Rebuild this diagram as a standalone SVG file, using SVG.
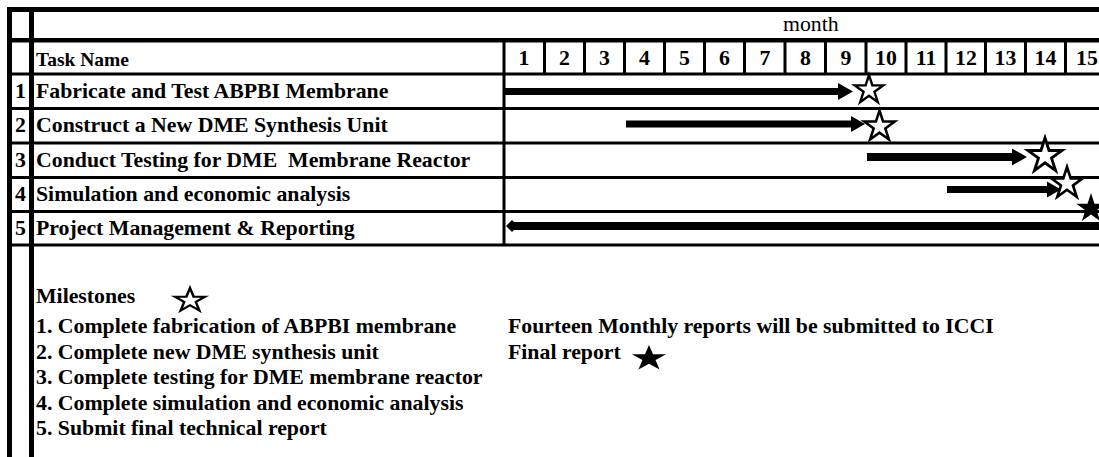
<svg xmlns="http://www.w3.org/2000/svg" width="1099" height="457" viewBox="0 0 1099 457">
<style>
.t{font-family:"Liberation Serif","Times New Roman",serif;font-weight:bold;font-size:21.8px;fill:#000}
.n{text-anchor:middle}
.r{font-weight:normal}
.g{fill:#000}
.so{fill:#fff;stroke:#000;stroke-width:1.6;vector-effect:non-scaling-stroke}
.sf{fill:#000}
</style>
<defs>
<path id="star" d="M0,-10 L2.245,-3.09 L9.511,-3.09 L3.633,1.18 L5.878,8.09 L0,3.82 L-5.878,8.09 L-3.633,1.18 L-9.511,-3.09 L-2.245,-3.09 Z"/>
</defs>
<rect width="1099" height="457" fill="#fff"/>
<g id="grid" class="g">
<rect x="7" y="7" width="1092" height="5"/>
<rect x="7" y="38" width="1092" height="4.5"/>
<rect x="7" y="72.5" width="1092" height="3"/>
<rect x="7" y="107" width="1092" height="3"/>
<rect x="7" y="141.5" width="1092" height="3"/>
<rect x="7" y="176" width="1092" height="3"/>
<rect x="7" y="210" width="1092" height="3"/>
<rect x="7" y="243.5" width="1092" height="3"/>
<rect x="7" y="7" width="5" height="450"/>
<rect x="29" y="7" width="5" height="450"/>
<rect x="502.5" y="40" width="3" height="205"/>
<rect x="543" y="40" width="3" height="34"/>
<rect x="583" y="40" width="3" height="34"/>
<rect x="623" y="40" width="3" height="34"/>
<rect x="663" y="40" width="3" height="34"/>
<rect x="703" y="40" width="3" height="34"/>
<rect x="743" y="40" width="3" height="34"/>
<rect x="783.5" y="40" width="3" height="34"/>
<rect x="824" y="40" width="3" height="34"/>
<rect x="864.5" y="40" width="3" height="34"/>
<rect x="904.5" y="40" width="3" height="34"/>
<rect x="944.5" y="40" width="3" height="34"/>
<rect x="984" y="40" width="3" height="34"/>
<rect x="1024" y="40" width="3" height="34"/>
<rect x="1064" y="40" width="3" height="34"/>
</g>
<g id="header">
<text class="t r" x="783" y="31">month</text>
<text class="t" x="36" y="66" style="font-size:19.5px">Task Name</text>
<g class="t n">
<text x="524" y="65">1</text>
<text x="564.5" y="65">2</text>
<text x="604.5" y="65">3</text>
<text x="644.5" y="65">4</text>
<text x="684.5" y="65">5</text>
<text x="724.5" y="65">6</text>
<text x="765" y="65">7</text>
<text x="805.5" y="65">8</text>
<text x="846" y="65">9</text>
<text x="886" y="65">10</text>
<text x="926" y="65">11</text>
<text x="966" y="65">12</text>
<text x="1005.5" y="65">13</text>
<text x="1045.5" y="65">14</text>
<text x="1087" y="65">15</text>
</g>
</g>
<g id="task1">
<text class="t n" x="20.5" y="98">1</text>
<text class="t" x="36" y="98">Fabricate and Test ABPBI Membrane</text>
</g>
<g id="task2">
<text class="t n" x="20.5" y="132">2</text>
<text class="t" x="36" y="132">Construct a New DME Synthesis Unit</text>
</g>
<g id="task3">
<text class="t n" x="20.5" y="166.5">3</text>
<text class="t" x="36" y="166.5" xml:space="preserve">Conduct Testing for DME  Membrane Reactor</text>
</g>
<g id="task4">
<text class="t n" x="20.5" y="200.5">4</text>
<text class="t" x="36" y="200.5">Simulation and economic analysis</text>
</g>
<g id="task5">
<text class="t n" x="20.5" y="234.5">5</text>
<text class="t" x="36" y="234.5">Project Management &amp; Reporting</text>
</g>
<g id="connectors" class="g">
<rect x="505" y="88" width="335" height="7"/>
<polygon points="838,83 853,91.5 838,100"/>
<rect x="626" y="120.5" width="227" height="7"/>
<polygon points="851,116 865,124 851,132"/>
<rect x="867" y="153" width="147" height="8"/>
<polygon points="1012,148.5 1027,157 1012,165.5"/>
<rect x="947" y="186" width="102" height="7"/>
<polygon points="1047,181.5 1061,189.5 1047,197.5"/>
<rect x="512" y="222" width="587" height="8"/>
<polygon points="506,226 512,220 518,226 512,232"/>
</g>
<g id="milestones">
<use href="#star" class="so" transform="translate(869,90) scale(1.5)"/>
<use href="#star" class="so" transform="translate(879.5,126.5) scale(1.6)"/>
<use href="#star" class="so" transform="translate(1045,156) scale(1.8)"/>
<use href="#star" class="so" transform="translate(1067,183.5) scale(1.65)"/>
<use href="#star" class="sf" transform="translate(1091,208.5) scale(1.55)"/>
</g>
<g id="legend">
<text class="t" x="36" y="303">Milestones</text>
<use href="#star" class="so" transform="translate(190,300.5) scale(1.6,1.25)"/>
<text class="t" x="36" y="333">1. Complete fabrication of ABPBI membrane</text>
<text class="t" x="36" y="358.5">2. Complete new DME synthesis unit</text>
<text class="t" x="36" y="384">3. Complete testing for DME membrane reactor</text>
<text class="t" x="36" y="409.5">4. Complete simulation and economic analysis</text>
<text class="t" x="36" y="435">5. Submit final technical report</text>
<text class="t" x="508" y="333">Fourteen Monthly reports will be submitted to ICCI</text>
<text class="t" x="508" y="359">Final report</text>
<use href="#star" class="sf" transform="translate(649,358.5) scale(1.8,1.35)"/>
</g>
</svg>
